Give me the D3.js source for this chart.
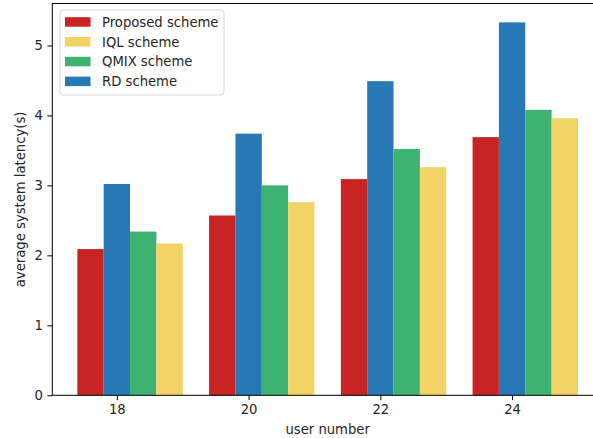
<!DOCTYPE html>
<html>
<head>
<meta charset="utf-8">
<script src="https://cdn.jsdelivr.net/npm/d3@7"></script>
<style>
  html, body { margin: 0; padding: 0; background: #fff; }
  svg { display: block; font-family: "DejaVu Sans", sans-serif; }
</style>
</head>
<body>
<svg id="chart" width="593" height="438"></svg>
<script>
// User counts on the x axis
const userNumbers = [18, 20, 22, 24];

// Average system latency (s) per scheme
const proposed = [2.09, 2.57, 3.09, 3.69];
const rd       = [3.02, 3.74, 4.49, 5.33];
const qmix     = [2.34, 3.00, 3.52, 4.08];
const iql      = [2.17, 2.76, 3.26, 3.96];

const yTicks = [0, 1, 2, 3, 4, 5];

// Bars are drawn left-to-right in this order
const barSeries = [
  { name: "Proposed scheme", values: proposed, color: "#c82423", offset: -0.4 },
  { name: "RD scheme",       values: rd,       color: "#2878b5", offset: 0.0 },
  { name: "QMIX scheme",     values: qmix,     color: "#3cb371", offset: 0.4 },
  { name: "IQL scheme",      values: iql,      color: "#f3d266", offset: 0.8 }
];
// Legend lists them in a different order
const legendOrder = ["Proposed scheme", "IQL scheme", "QMIX scheme", "RD scheme"];
const barWidth = 0.4;

const svg = d3.select("#chart");
const plot = { left: 52.3, right: 603, top: 3.5, bottom: 395.3 };

const x = d3.scaleLinear().domain([17.02, 25.38]).range([plot.left, plot.right]);
const y = d3.scaleLinear().domain([0, 5.6]).range([plot.bottom, plot.top]);

const fontSize = "13.2px";
const textColor = "#262626";

// Bars
barSeries.forEach(s => {
  svg.append("g")
    .selectAll("rect")
    .data(userNumbers.map((u, i) => ({ u, v: s.values[i] })))
    .join("rect")
    .attr("x", d => x(d.u + s.offset - barWidth / 2))
    .attr("width", d => x(d.u + s.offset + barWidth / 2) - x(d.u + s.offset - barWidth / 2))
    .attr("y", d => y(d.v))
    .attr("height", d => y(0) - y(d.v))
    .attr("fill", s.color);
});

// Axes
const xAxis = d3.axisBottom(x).tickValues(userNumbers).tickFormat(d3.format("d"))
  .tickSize(4.9).tickPadding(4.5);
const yAxis = d3.axisLeft(y).tickValues(yTicks).tickFormat(d3.format("d"))
  .tickSize(4.9).tickPadding(4.5);

const gx = svg.append("g").attr("transform", `translate(0,${plot.bottom})`).call(xAxis);
const gy = svg.append("g").attr("transform", `translate(${plot.left},0)`).call(yAxis);
[gx, gy].forEach(g => {
  g.select(".domain").remove();
  g.selectAll(".tick line").attr("stroke", "#000").attr("stroke-width", 1);
  g.selectAll(".tick text").attr("fill", textColor)
    .style("font-size", fontSize).style("font-family", "DejaVu Sans");
});

// Spines
svg.append("rect")
  .attr("x", plot.left).attr("y", plot.top)
  .attr("width", plot.right - plot.left).attr("height", plot.bottom - plot.top)
  .attr("fill", "none").attr("stroke", "#000").attr("stroke-width", 1);

// Axis labels
svg.append("text")
  .attr("x", (plot.left + plot.right) / 2).attr("y", 434)
  .attr("text-anchor", "middle").attr("fill", textColor)
  .style("font-size", fontSize)
  .text("user number");

svg.append("text")
  .attr("transform", `translate(24.5,${(plot.top + plot.bottom) / 2}) rotate(-90)`)
  .attr("text-anchor", "middle").attr("fill", textColor)
  .style("font-size", fontSize)
  .text("average system latency(s)");

// Legend
const legend = svg.append("g").attr("transform", "translate(60,10)");
legend.append("rect")
  .attr("width", 164).attr("height", 85).attr("rx", 3)
  .attr("fill", "#fff").attr("fill-opacity", 0.8)
  .attr("stroke", "#d6d6d6").attr("stroke-width", 1);

legendOrder.forEach((name, i) => {
  const s = barSeries.find(b => b.name === name);
  const row = legend.append("g").attr("transform", `translate(0,${12 + i * 19.8})`);
  row.append("rect")
    .attr("x", 5).attr("y", -4.8).attr("width", 25.5).attr("height", 9.5)
    .attr("fill", s.color);
  row.append("text")
    .attr("x", 42).attr("y", 4.8)
    .attr("fill", textColor)
    .style("font-size", fontSize)
    .text(name);
});
</script>
</body>
</html>
